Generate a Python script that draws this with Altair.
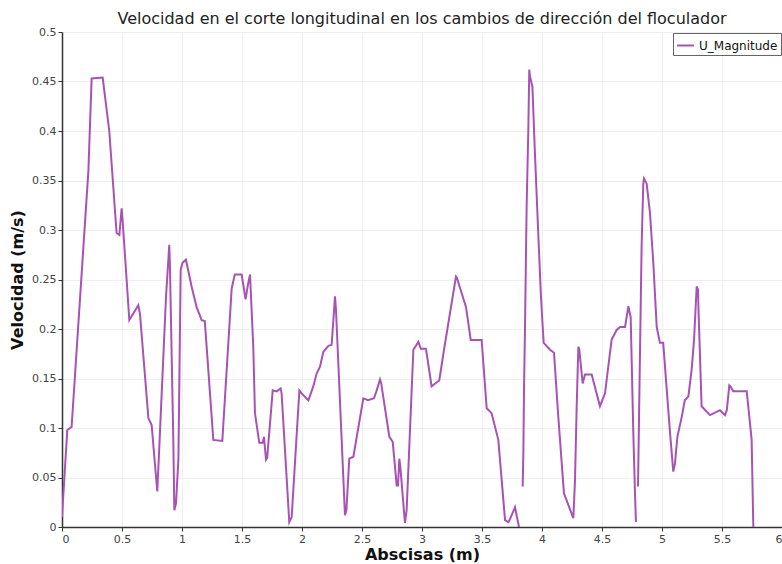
import altair as alt
import pandas as pd

# Velocity magnitude along the longitudinal cut, three continuous stretches
x_a = [0, 0.044, 0.08, 0.22, 0.247, 0.339, 0.394, 0.455, 0.478, 0.497, 0.505,
       0.561, 0.636, 0.65, 0.72, 0.747, 0.775, 0.794, 0.805, 0.867, 0.894, 0.9,
       0.928, 0.936, 0.95, 0.97, 0.989, 1.005, 1.033, 1.08, 1.122, 1.164, 1.19,
       1.261, 1.336, 1.414, 1.44, 1.497, 1.53, 1.55, 1.567, 1.594, 1.608, 1.644,
       1.672, 1.683, 1.70, 1.71, 1.756, 1.789, 1.822, 1.83, 1.894, 1.914, 1.978,
       1.997, 2.053, 2.094, 2.122, 2.15, 2.178, 2.22, 2.247, 2.275, 2.283, 2.358,
       2.37, 2.394, 2.428, 2.511, 2.55, 2.6, 2.62, 2.65, 2.66, 2.728, 2.756,
       2.789, 2.8, 2.811, 2.82, 2.858, 2.872, 2.928, 2.97, 2.99, 3.033, 3.08,
       3.11, 3.144, 3.178, 3.283, 3.29, 3.367, 3.406, 3.497, 3.539, 3.58, 3.636,
       3.692, 3.72, 3.73, 3.775, 3.825]
v_a = [0.010, 0.098, 0.101, 0.36, 0.453, 0.454, 0.40, 0.297, 0.295, 0.322, 0.31,
       0.209, 0.224, 0.215, 0.11, 0.103, 0.063, 0.036, 0.065, 0.233, 0.285, 0.26,
       0.085, 0.017, 0.024, 0.068, 0.26, 0.267, 0.27, 0.243, 0.222, 0.209, 0.208,
       0.088, 0.087, 0.241, 0.255, 0.255, 0.23, 0.245, 0.255, 0.182, 0.115, 0.085,
       0.085, 0.091, 0.068, 0.07, 0.138, 0.137, 0.14, 0.135, 0.005, 0.010, 0.138,
       0.135, 0.128, 0.142, 0.155, 0.162, 0.177, 0.183, 0.184, 0.233, 0.22, 0.012,
       0.017, 0.069, 0.071, 0.130, 0.128, 0.13, 0.137, 0.149, 0.145, 0.091, 0.086,
       0.042, 0.042, 0.069, 0.06, 0.004, 0.017, 0.179, 0.187, 0.18, 0.18, 0.142,
       0.145, 0.148, 0.175, 0.253, 0.252, 0.222, 0.189, 0.189, 0.12, 0.115, 0.088,
       0.007, 0.005, 0.007, 0.020, -0.01]

x_b = [3.839, 3.845, 3.85, 3.858, 3.872, 3.886, 3.894, 3.9, 3.92, 3.94, 3.97,
       3.99, 4.006, 4.014, 4.067, 4.1, 4.136, 4.183, 4.261, 4.275, 4.289, 4.303,
       4.31, 4.339, 4.358, 4.414, 4.483, 4.525, 4.58, 4.622, 4.65, 4.692, 4.72,
       4.725, 4.739, 4.761, 4.775, 4.783]
v_b = [0.041, 0.078, 0.138, 0.199, 0.324, 0.401, 0.462, 0.455, 0.445, 0.381,
       0.293, 0.236, 0.202, 0.186, 0.179, 0.176, 0.111, 0.034, 0.009, 0.047,
       0.122, 0.182, 0.18, 0.145, 0.154, 0.154, 0.122, 0.135, 0.189, 0.199,
       0.202, 0.202, 0.223, 0.22, 0.212, 0.095, 0.034, 0.005]

x_c = [4.8, 4.817, 4.83, 4.844, 4.85, 4.872, 4.9, 4.928, 4.956, 4.983, 5.01,
       5.025, 5.067, 5.094, 5.108, 5.128, 5.164, 5.19, 5.22, 5.247, 5.267, 5.289,
       5.3, 5.305, 5.33, 5.4, 5.483, 5.5, 5.525, 5.54, 5.561, 5.57, 5.594, 5.706,
       5.728, 5.747, 5.761]
v_c = [0.041, 0.179, 0.283, 0.347, 0.352, 0.347, 0.317, 0.266, 0.202, 0.186,
       0.186, 0.162, 0.095, 0.056, 0.064, 0.091, 0.111, 0.128, 0.132, 0.159,
       0.189, 0.243, 0.24, 0.216, 0.122, 0.113, 0.118, 0.116, 0.113, 0.118,
       0.143, 0.142, 0.137, 0.137, 0.111, 0.088, 0.0]

x_ticks = [0, 0.5, 1, 1.5, 2, 2.5, 3, 3.5, 4, 4.5, 5, 5.5, 6]
y_ticks = [0, 0.05, 0.1, 0.15, 0.2, 0.25, 0.3, 0.35, 0.4, 0.45, 0.5]

series_name = "U_Magnitude"
purple = "#a852b6"
FONT = "DejaVu Sans"

rows = []
for seg, (xs, vs) in enumerate([(x_a, v_a), (x_b, v_b), (x_c, v_c)]):
    for i, (x, v) in enumerate(zip(xs, vs)):
        rows.append({"x": x, "v": v, "seg": seg, "i": i, "serie": series_name})
df = pd.DataFrame(rows)

chart = (
    alt.Chart(df)
    .mark_line(strokeWidth=2, clip=True)
    .encode(
        x=alt.X(
            "x:Q",
            scale=alt.Scale(domain=[0, 6], nice=False),
            axis=alt.Axis(values=x_ticks, format="~g", title="Abscisas (m)", titlePadding=2),
        ),
        y=alt.Y(
            "v:Q",
            scale=alt.Scale(domain=[0, 0.5], nice=False),
            axis=alt.Axis(values=y_ticks, format="~g", title="Velocidad (m/s)", titlePadding=6),
        ),
        color=alt.Color(
            "serie:N",
            scale=alt.Scale(range=[purple]),
            legend=alt.Legend(
                title=None,
                orient="none",
                legendX=611,
                legendY=1,
                symbolType="stroke",
                symbolStrokeWidth=2,
                symbolSize=280,
                strokeColor="#666666",
                fillColor="white",
                padding=3,
                labelFontSize=12,
                labelFont=FONT,
                labelColor="#111111",
            ),
        ),
        detail="seg:N",
        order="i:Q",
    )
    .properties(
        width=720,
        height=495,
        title=alt.TitleParams(
            "Velocidad en el corte longitudinal en los cambios de dirección del floculador",
            font=FONT,
            fontSize=16,
            fontWeight="normal",
            color="#222222",
            anchor="middle",
            frame="group",
            offset=-1,
        ),
        autosize=alt.AutoSizeParams(type="none"),
        padding={"left": 62, "top": 32, "right": 0, "bottom": 37},
    )
    .configure_view(stroke=None, fill="white")
    .configure_axis(
        domainColor="#333333",
        domainWidth=1.5,
        tickColor="#333333",
        tickSize=4,
        labelColor="#444444",
        labelFont=FONT,
        labelFontSize=11,
        gridColor="#efefef",
        titleFont=FONT,
        titleFontSize=16,
        titleFontWeight="bold",
        titleColor="#111111",
    )
)

chart.save("out.html", embed_options={"renderer": "svg", "actions": False})
